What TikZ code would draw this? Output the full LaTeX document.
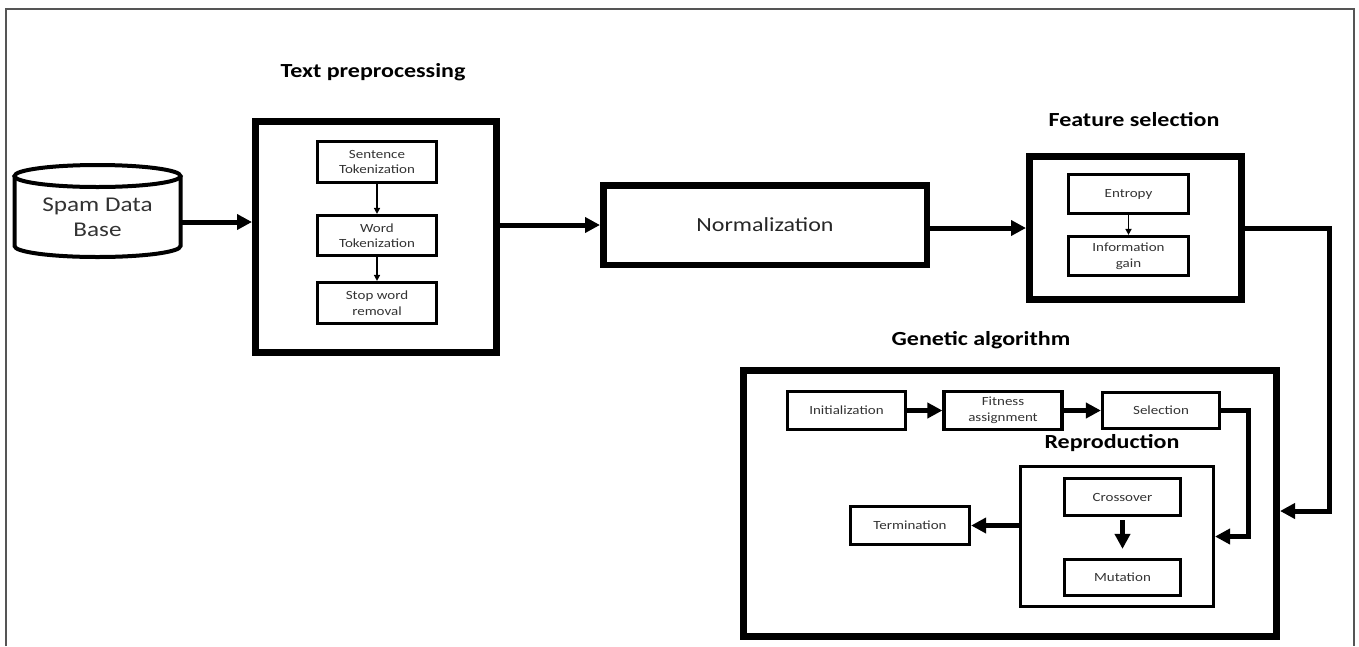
\documentclass[tikz,border=0pt]{standalone}
\usepackage{fontspec}
\setmainfont{Carlito}[FakeStretch=1.2]
\usetikzlibrary{arrows.meta,calc}
\definecolor{txtgray}{HTML}{333333}
\definecolor{framegray}{HTML}{555555}
\begin{document}
\begin{tikzpicture}[x=1pt,y=-1pt,
  bigbox/.style={draw, line width=7pt, inner sep=0pt},
  medbox/.style={draw, line width=3pt, inner sep=0pt},
  smallbox/.style={draw, line width=3.2pt, inner sep=0pt, align=center, text=txtgray,
    font=\fontsize{12.5}{15.5}\selectfont},
  titletext/.style={font=\bfseries\fontsize{20}{24}\selectfont, inner sep=0pt},
  thickarrow/.style={line width=5pt, -{Triangle[length=15pt,width=15pt]}},
  thickline/.style={line width=5pt},
  thinarrow/.style={line width=1.5pt, -{Triangle[length=6pt,width=6pt]}}
]
\useasboundingbox (0,0) rectangle (1359,646);
% outer frame
\draw[framegray, line width=2pt] (6,646) -- (6,9) -- (1354,9) -- (1354,646);

% database cylinder
\node[inner sep=0pt, minimum width=167pt, minimum height=90pt, align=center, text=txtgray,
  font=\fontsize{21}{25}\selectfont] (db) at (97.5,217) {Spam Data\\Base};
\draw[line width=4pt] (14.5,176) -- (14.5,246) arc[start angle=180, end angle=360, x radius=83pt, y radius=11pt] -- (180.5,176);
\draw[line width=4pt] (97.5,176) ellipse [x radius=83pt, y radius=11pt];

% text preprocessing
\node[titletext] (tptitle) at (373,72) {Text preprocessing};
\node[bigbox, minimum width=241pt, minimum height=231pt] (tp) at (376,237) {};
\node[smallbox, minimum width=119pt, minimum height=41pt] (sent) at (377,162) {Sentence\\Tokenization};
\node[smallbox, minimum width=119pt, minimum height=40pt] (word) at (377,235.5) {Word\\Tokenization};
\node[smallbox, minimum width=119pt, minimum height=41pt] (stop) at (377,303) {Stop word\\removal};
\draw[thinarrow] (sent.south) -- (word.north);
\draw[thinarrow] (word.south) -- (stop.north);

% normalization
\node[draw, line width=6.5pt, minimum width=323.5pt, minimum height=79.5pt, text=black!85,
  font=\fontsize{20}{24}\selectfont] (norm) at (765,225) {Normalization};

% feature selection
\node[titletext] (fstitle) at (1134,120) {Feature selection};
\node[bigbox, minimum width=212pt, minimum height=143pt] (fs) at (1135.5,228) {};
\node[smallbox, minimum width=120pt, minimum height=39pt] (ent) at (1128.5,194) {Entropy};
\node[smallbox, minimum width=120pt, minimum height=39pt] (info) at (1128.5,256) {Information\\gain};
\draw[thinarrow] (ent.south) -- (info.north);

% genetic algorithm
\node[titletext] (gatitle) at (981,340) {Genetic algorithm};
\node[bigbox, minimum width=533pt, minimum height=266pt] (ga) at (1010,503.5) {};
\node[smallbox, minimum width=118pt, minimum height=38pt] (init) at (846.5,410.5) {Initialization};
\node[smallbox, minimum width=118pt, minimum height=38pt] (fit) at (1003,410.5) {Fitness\\assignment};
\node[smallbox, minimum width=117pt, minimum height=36pt] (sel) at (1161,410.5) {Selection};
\node[titletext] (reptitle) at (1112,443) {Reproduction};
\node[medbox, minimum width=193pt, minimum height=140pt] (rep) at (1117,536.5) {};
\node[smallbox, minimum width=116pt, minimum height=37pt] (cross) at (1122.5,497) {Crossover};
\node[smallbox, minimum width=116pt, minimum height=36pt] (mut) at (1122.5,577.5) {Mutation};
\node[smallbox, minimum width=119pt, minimum height=38pt] (term) at (910,525.5) {Termination};

% connectors
\coordinate (c1) at (1329,511);
\coordinate (c2) at (1248,536.5);
\draw[thickarrow] ([yshift=-5pt]db.east) -- ([yshift=-5pt]db.east -| tp.west);
\draw[thickarrow] (tp.east |- norm.west) -- (norm.west);
\draw[thickarrow] (norm.east) ++(0,3) -- ($(norm.east -| fs.west)+(0,3)$);
\draw[thickline, -{Triangle[length=15pt,width=15pt]}] (fs.east) -| (c1) -- (c1 -| ga.east);
\draw[thickarrow] (init) -- (fit);
\draw[thickarrow] (fit) -- (sel);
\draw[thickline, -{Triangle[length=15pt,width=15pt]}] (sel.east) -| (c2) -- (rep.east);
\draw[thickarrow] (rep.west |- term.east) -- (term.east);
\draw[thickarrow, shorten <=3pt, shorten >=9pt] (cross.south) -- (mut.north);
\end{tikzpicture}
\end{document}
